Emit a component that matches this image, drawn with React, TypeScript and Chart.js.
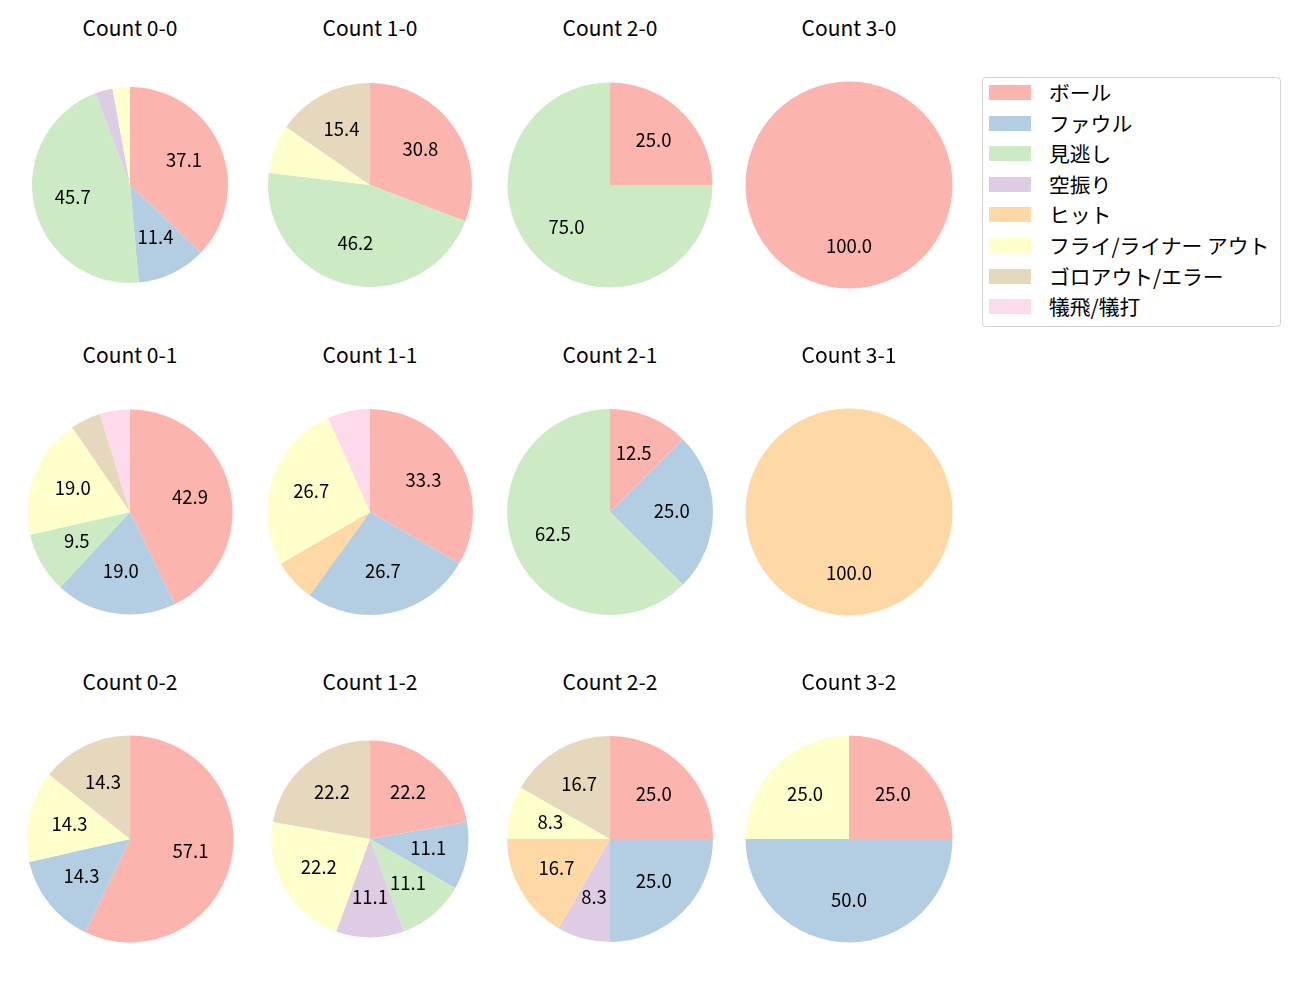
import React, { useEffect, useRef } from "react";
import { Chart, registerables } from "chart.js";

Chart.register(...registerables);

const categories = [
  "ボール",
  "ファウル",
  "見逃し",
  "空振り",
  "ヒット",
  "フライ/ライナー アウト",
  "ゴロアウト/エラー",
  "犠飛/犠打",
];

const colors = [
  "#fbb4ae",
  "#b3cde3",
  "#ccebc5",
  "#decbe4",
  "#fed9a6",
  "#ffffcc",
  "#e5d8bd",
  "#fddaec",
];

const titles = [
  "Count 0-0", "Count 1-0", "Count 2-0", "Count 3-0",
  "Count 0-1", "Count 1-1", "Count 2-1", "Count 3-1",
  "Count 0-2", "Count 1-2", "Count 2-2", "Count 3-2",
];

// counts per category (order as categories)
const count00 = [13, 4, 16, 1, 0, 1, 0, 0];
const count10 = [4, 0, 6, 0, 0, 1, 2, 0];
const count20 = [1, 0, 3, 0, 0, 0, 0, 0];
const count30 = [1, 0, 0, 0, 0, 0, 0, 0];
const count01 = [9, 4, 2, 0, 0, 4, 1, 1];
const count11 = [5, 4, 0, 0, 1, 4, 0, 1];
const count21 = [1, 2, 5, 0, 0, 0, 0, 0];
const count31 = [0, 0, 0, 0, 1, 0, 0, 0];
const count02 = [4, 1, 0, 0, 0, 1, 1, 0];
const count12 = [2, 1, 1, 1, 0, 2, 2, 0];
const count22 = [3, 3, 0, 1, 2, 1, 2, 0];
const count32 = [1, 2, 0, 0, 0, 1, 0, 0];

const allCounts = [
  count00, count10, count20, count30,
  count01, count11, count21, count31,
  count02, count12, count22, count32,
];

const radii = [98, 102, 102.5, 103.5, 102.5, 103, 103, 103.5, 103.5, 98.5, 103, 103.5];
const colCenters = [130, 370, 610, 849];
const rowCenters = [185, 512, 839];
const FONT = '"Noto Sans CJK JP", "Noto Sans", sans-serif';

const pctLabelPlugin = {
  id: "pctLabels",
  afterDatasetsDraw(chart: any) {
    const meta = chart.getDatasetMeta(0);
    const data = chart.data.datasets[0].data as number[];
    const total = data.reduce((a, b) => a + b, 0);
    const ctx = chart.ctx;
    ctx.save();
    ctx.fillStyle = "#000";
    ctx.font = `18.5px ${FONT}`;
    ctx.textAlign = "center";
    ctx.textBaseline = "middle";
    meta.data.forEach((arc: any, i: number) => {
      const v = data[i];
      if (!v) return;
      const pct = (v / total) * 100;
      if (pct < 8) return;
      const mid = (arc.startAngle + arc.endAngle) / 2;
      const r = arc.outerRadius * 0.6;
      const x = arc.x + Math.cos(mid) * r;
      const y = arc.y + Math.sin(mid) * r;
      ctx.fillText(pct.toFixed(1), x, y - 1.5);
    });
    ctx.restore();
  },
};

const SIZE = 240;

function PieCell({ idx }: { idx: number }) {
  const ref = useRef<HTMLCanvasElement | null>(null);
  useEffect(() => {
    if (!ref.current) return;
    const chart = new Chart(ref.current, {
      type: "pie",
      data: {
        labels: categories,
        datasets: [
          {
            data: allCounts[idx],
            backgroundColor: colors,
            borderWidth: 0,
            hoverOffset: 0,
            radius: radii[idx],
          } as any,
        ],
      },
      options: {
        animation: false,
        responsive: false,
        events: [],
        layout: { padding: 0 },
        plugins: {
          legend: { display: false },
          tooltip: { enabled: false },
          title: { display: false },
        },
      },
      plugins: [pctLabelPlugin],
    });
    return () => chart.destroy();
  }, [idx]);
  const col = idx % 4;
  const row = Math.floor(idx / 4);
  const cx = colCenters[col];
  const cy = rowCenters[row];
  return (
    <>
      <div
        style={{
          position: "absolute",
          left: cx - 100,
          width: 200,
          top: cy - 158 - 15,
          height: 30,
          lineHeight: "30px",
          textAlign: "center",
          fontFamily: FONT,
          fontSize: 21,
          color: "#000",
        }}
      >
        {titles[idx]}
      </div>
      <canvas
        ref={ref}
        width={SIZE}
        height={SIZE}
        style={{
          position: "absolute",
          left: cx - SIZE / 2,
          top: cy - SIZE / 2,
          width: SIZE,
          height: SIZE,
        }}
      />
    </>
  );
}

function Legend() {
  return (
    <div
      style={{
        position: "absolute",
        left: 982,
        top: 77,
        width: 297,
        height: 248,
        border: "1px solid #d4d4d4",
        borderRadius: 4,
        background: "#fff",
        fontFamily: FONT,
        fontSize: 20.8,
      }}
    >
      {categories.map((c, i) => (
        <div
          key={c}
          style={{
            position: "absolute",
            left: 6,
            top: 7 + i * 30.6,
            height: 15,
            width: 290,
          }}
        >
          <div
            style={{
              position: "absolute",
              left: 0,
              top: 0,
              width: 42,
              height: 15,
              background: colors[i],
            }}
          />
          <div
            style={{
              position: "absolute",
              left: 60,
              top: -7,
              height: 28,
              lineHeight: "28px",
              whiteSpace: "nowrap",
              color: "#000",
            }}
          >
            {c}
          </div>
        </div>
      ))}
    </div>
  );
}

export default function App() {
  return (
    <div
      style={{
        position: "absolute",
        left: 0,
        top: 0,
        width: 1300,
        height: 1000,
        background: "#fff",
        overflow: "hidden",
      }}
    >
      {titles.map((_, i) => (
        <PieCell key={i} idx={i} />
      ))}
      <Legend />
    </div>
  );
}
